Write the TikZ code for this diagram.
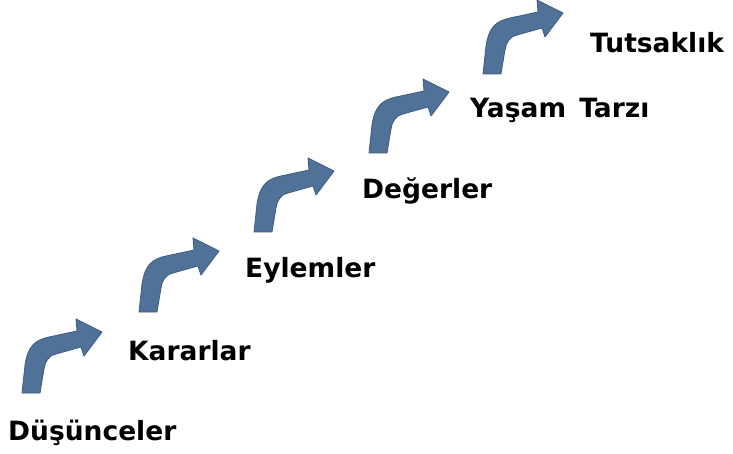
\documentclass[tikz,border=0pt]{standalone}
\usepackage{fontspec}
\setmainfont{DejaVu Sans}
\definecolor{arrowblue}{RGB}{80,114,152}
\definecolor{arrowedge}{RGB}{62,92,128}
\begin{document}
\begin{tikzpicture}[x=1pt,y=-1pt,
  lbl/.style={anchor=base west,inner sep=0pt,font=\fontsize{26.5}{30}\selectfont\bfseries},
  bentarrow/.pic={
    \fill[arrowblue,draw=arrowedge,line width=0.8pt,line join=round]
      (0,0) -- (3,-28) .. controls (6,-47) and (13,-53) .. (27,-56)
      -- (55,-62) -- (54,-74) -- (80,-61) -- (62,-37) -- (59,-46)
      -- (34,-39) .. controls (26,-37) and (23,-31) .. (22,-24)
      -- (18,0) -- cycle;
  }]
\useasboundingbox (0,0) rectangle (733,454);
\fill[white] (0,0) rectangle (733,454);
\pic at (22,393) {bentarrow};
\pic at (139,312) {bentarrow};
\pic at (254,232) {bentarrow};
\pic at (369,153) {bentarrow};
\pic at (483,74) {bentarrow};
\node[lbl] (d1) at (8,440) {Düşünceler};
\node[lbl] (d2) at (128,360) {Kararlar};
\node[lbl] (d3) at (245,277) {Eylemler};
\node[lbl] (d4) at (362,199) {Değerler};
\node[lbl] (d5) at (470,118) {Yaşam\hspace{0.15em} Tarzı};
\node[lbl] (d6) at (590,53) {Tutsaklık};
\end{tikzpicture}
\end{document}
